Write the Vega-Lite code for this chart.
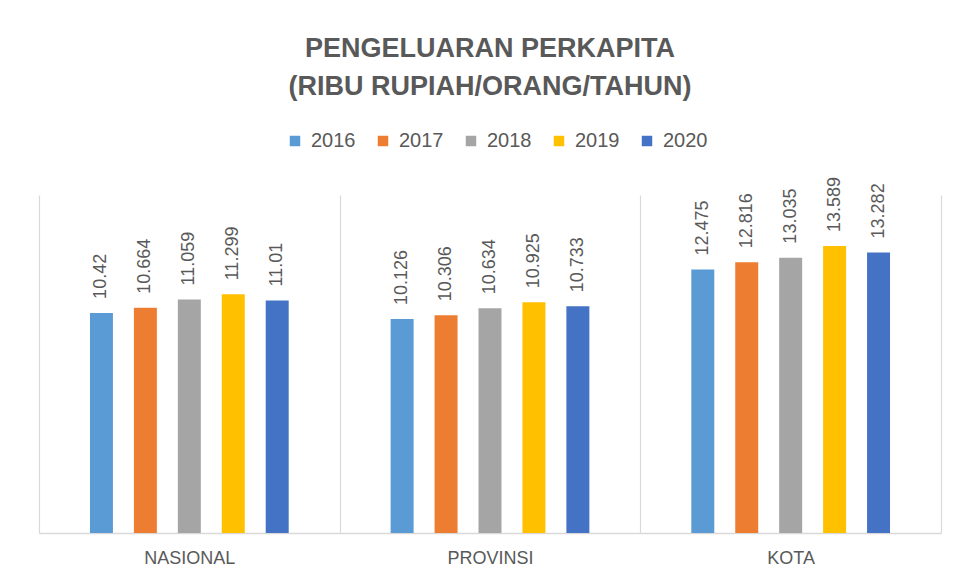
{
  "$schema": "https://vega.github.io/schema/vega-lite/v6.json",
  "width": 902,
  "height": 338,
  "autosize": "none",
  "padding": {"left": 39, "top": 195, "right": 14, "bottom": 49},
  "background": "white",
  "title": {
    "text": ["PENGELUARAN PERKAPITA", "(RIBU RUPIAH/ORANG/TAHUN)"],
    "font": "Liberation Sans",
    "fontSize": 27,
    "fontWeight": "bold",
    "color": "#595959",
    "anchor": "middle",
    "lineHeight": 38,
    "offset": 30
  },
  "data": {
    "values": [
      {"wilayah": "NASIONAL", "tahun": "2016", "nilai": 10.42},
      {"wilayah": "NASIONAL", "tahun": "2017", "nilai": 10.664},
      {"wilayah": "NASIONAL", "tahun": "2018", "nilai": 11.059},
      {"wilayah": "NASIONAL", "tahun": "2019", "nilai": 11.299},
      {"wilayah": "NASIONAL", "tahun": "2020", "nilai": 11.01},
      {"wilayah": "PROVINSI", "tahun": "2016", "nilai": 10.126},
      {"wilayah": "PROVINSI", "tahun": "2017", "nilai": 10.306},
      {"wilayah": "PROVINSI", "tahun": "2018", "nilai": 10.634},
      {"wilayah": "PROVINSI", "tahun": "2019", "nilai": 10.925},
      {"wilayah": "PROVINSI", "tahun": "2020", "nilai": 10.733},
      {"wilayah": "KOTA", "tahun": "2016", "nilai": 12.475},
      {"wilayah": "KOTA", "tahun": "2017", "nilai": 12.816},
      {"wilayah": "KOTA", "tahun": "2018", "nilai": 13.035},
      {"wilayah": "KOTA", "tahun": "2019", "nilai": 13.589},
      {"wilayah": "KOTA", "tahun": "2020", "nilai": 13.282}
    ]
  },
  "encoding": {
    "x": {
      "field": "wilayah",
      "type": "nominal",
      "sort": ["NASIONAL", "PROVINSI", "KOTA"],
      "scale": {"paddingInner": 0, "paddingOuter": 0},
      "axis": {
        "title": null,
        "labelAngle": 0,
        "labelFont": "Liberation Sans",
        "labelFontSize": 18,
        "labelColor": "#595959",
        "labelPadding": 16,
        "ticks": false,
        "grid": true,
        "gridColor": "#d9d9d9",
        "gridWidth": 1.2,
        "tickBand": "extent",
        "domainColor": "#d9d9d9",
        "domainWidth": 1.5
      }
    },
    "xOffset": {
      "field": "tahun",
      "type": "nominal",
      "scale": {
        "domain": [" ", "2016", "2017", "2018", "2019", "2020", "  "],
        "paddingInner": 0.477,
        "paddingOuter": 0.16
      }
    },
    "y": {
      "field": "nilai",
      "type": "quantitative",
      "scale": {"domain": [0, 16]},
      "axis": null
    }
  },
  "layer": [
    {
      "mark": {"type": "bar"},
      "encoding": {
        "color": {
          "field": "tahun",
          "type": "nominal",
          "scale": {
            "domain": ["2016", "2017", "2018", "2019", "2020"],
            "range": ["#5B9BD5", "#ED7D31", "#A5A5A5", "#FFC000", "#4472C4"]
          },
          "legend": {
            "title": null,
            "orient": "none",
            "legendX": 246,
            "legendY": -64,
            "direction": "horizontal",
            "symbolType": "square",
            "symbolSize": 110,
            "symbolStrokeWidth": 0,
            "labelFont": "Liberation Sans",
            "labelFontSize": 20,
            "labelColor": "#595959",
            "labelOffset": 6,
            "columnPadding": 17
          }
        }
      }
    },
    {
      "mark": {
        "type": "text",
        "angle": 270,
        "align": "left",
        "baseline": "middle",
        "dx": 14,
        "font": "Liberation Sans",
        "fontSize": 18,
        "color": "#595959"
      },
      "encoding": {
        "text": {"field": "nilai", "type": "quantitative"}
      }
    }
  ],
  "config": {
    "view": {"stroke": null}
  }
}
